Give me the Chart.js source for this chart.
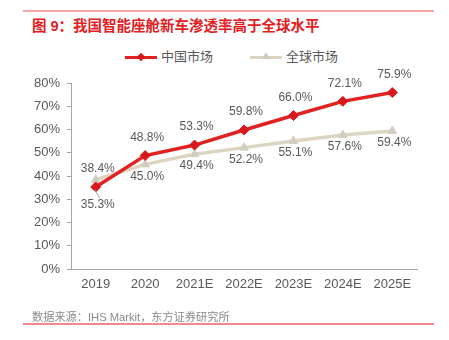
<!DOCTYPE html>
<html>
<head>
<meta charset="utf-8">
<script src="https://cdn.jsdelivr.net/npm/chart.js@4/dist/chart.umd.min.js"></script>
<style>
  body { margin: 0; background: #fff; font-family: "Liberation Sans", "Noto Sans CJK SC", sans-serif; }
  #wrap { position: relative; width: 449px; height: 340px; overflow: hidden; }
  #chart { position: absolute; left: 0; top: 0; }
  .rule { position: absolute; left: 23px; width: 411px; height: 2px; background: #f2a3a3; }
  #title { position: absolute; left: 32px; top: 14px; font-size: 14.5px; font-weight: bold; color: #e3201f; white-space: nowrap; }
  #source { position: absolute; left: 32px; top: 308px; font-size: 11.2px; color: #8a8a8a; white-space: nowrap; }
  #legend { position: absolute; top: 48px; left: 0; width: 449px; font-size: 13px; color: #595959; }
  .item { position: absolute; top: 0; height: 18px; line-height: 18px; }
  .swatch { position: absolute; top: 8px; width: 32px; height: 3px; }
  .label { position: absolute; left: 36px; white-space: nowrap; }
  .diamond { position: absolute; left: 13px; top: -2px; width: 6px; height: 6px; background: #d9181c; transform: rotate(45deg); }
  .tri { position: absolute; left: 12px; top: -4px; width: 0; height: 0; border-left: 4px solid transparent; border-right: 4px solid transparent; border-bottom: 7px solid #cfcbc3; }
</style>
</head>
<body>
<div id="wrap">
  <div class="rule" style="top:10px"></div>
  <div id="title">图 9：我国智能座舱新车渗透率高于全球水平</div>
  <div id="legend">
    <div class="item" style="left:125px"><div class="swatch" style="background:#e02222"><div class="diamond"></div></div><span class="label">中国市场</span></div>
    <div class="item" style="left:250px"><div class="swatch" style="background:#ddd5c1"><div class="tri"></div></div><span class="label">全球市场</span></div>
  </div>
  <canvas id="chart" width="449" height="340"></canvas>
  <div id="source">数据来源：IHS Markit，东方证券研究所</div>
  <div class="rule" style="top:323px; background:#f08a8a"></div>
</div>
<script>
const years = ["2019", "2020", "2021E", "2022E", "2023E", "2024E", "2025E"];
const chinaShare = [35.3, 48.8, 53.3, 59.8, 66.0, 72.1, 75.9];
const globalShare = [38.4, 45.0, 49.4, 52.2, 55.1, 57.6, 59.4];
// label goes above (-1) or below (+1) the point
const chinaSide = [1, -1, -1, -1, -1, -1, -1];
const globalSide = [-1, 1, 1, 1, 1, 1, 1];

const FONT = "'Liberation Sans', 'Noto Sans CJK SC', sans-serif";

// simple value labels drawn next to each point
const valueLabels = {
  id: "valueLabels",
  afterDatasetsDraw(chart) {
    const ctx = chart.ctx;
    ctx.save();
    ctx.font = "12px " + FONT;
    ctx.fillStyle = "#595959";
    ctx.textAlign = "center";
    ctx.textBaseline = "middle";
    chart.data.datasets.forEach((ds, i) => {
      const meta = chart.getDatasetMeta(i);
      meta.data.forEach((pt, j) => {
        const side = ds.labelSide[j];
        const off = side < 0 ? ds.upOffset : ds.downOffset;
        ctx.fillText(ds.data[j].toFixed(1) + "%", pt.x + 2, pt.y + side * off);
      });
    });
    // small leader from the first china label to its point
    const p = chart.getDatasetMeta(0).data[0];
    ctx.strokeStyle = "#a0a0a0";
    ctx.lineWidth = 1;
    ctx.beginPath();
    ctx.moveTo(p.x + 4, p.y + 11);
    ctx.lineTo(p.x - 1, p.y + 3);
    ctx.stroke();
    ctx.restore();
  }
};

new Chart(document.getElementById("chart"), {
  type: "line",
  data: {
    labels: years,
    datasets: [
      {
        label: "中国市场",
        data: chinaShare,
        labelSide: chinaSide,
        upOffset: 18, downOffset: 18,
        borderColor: "#e02222",
        backgroundColor: "#d9181c",
        borderWidth: 3.5,
        pointStyle: "rectRot",
        pointRadius: 5,
        pointBorderWidth: 1,
        pointBorderColor: "#d9181c",
        tension: 0
      },
      {
        label: "全球市场",
        data: globalShare,
        labelSide: globalSide,
        upOffset: 11, downOffset: 12,
        borderColor: "#ddd5c1",
        backgroundColor: "#cfcbc3",
        borderWidth: 3.5,
        pointStyle: "triangle",
        pointRadius: 5,
        pointBorderWidth: 1,
        pointBorderColor: "#d8d2c4",
        tension: 0
      }
    ]
  },
  options: {
    responsive: false,
    animation: false,
    layout: { padding: { left: 0, right: 32, top: 83, bottom: 0 } },
    plugins: {
      legend: { display: false },
      tooltip: { enabled: false }
    },
    scales: {
      x: {
        offset: true,
        grid: { display: false, drawTicks: false },
        border: { color: "#a6a6a6", width: 1 },
        ticks: {
          color: "#595959",
          padding: 8,
          maxRotation: 0,
          autoSkip: false,
          font: { size: 13, family: FONT }
        },
        afterFit(scale) { scale.height = 71; }
      },
      y: {
        min: 0,
        max: 80,
        grid: { drawOnChartArea: false, tickLength: 4, color: "#a6a6a6" },
        border: { color: "#a6a6a6", width: 1 },
        ticks: {
          stepSize: 10,
          color: "#595959",
          padding: 7,
          font: { size: 13, family: FONT },
          callback: v => v + "%"
        },
        afterFit(scale) { scale.width = 71; }
      }
    }
  },
  plugins: [valueLabels]
});
</script>
</body>
</html>
